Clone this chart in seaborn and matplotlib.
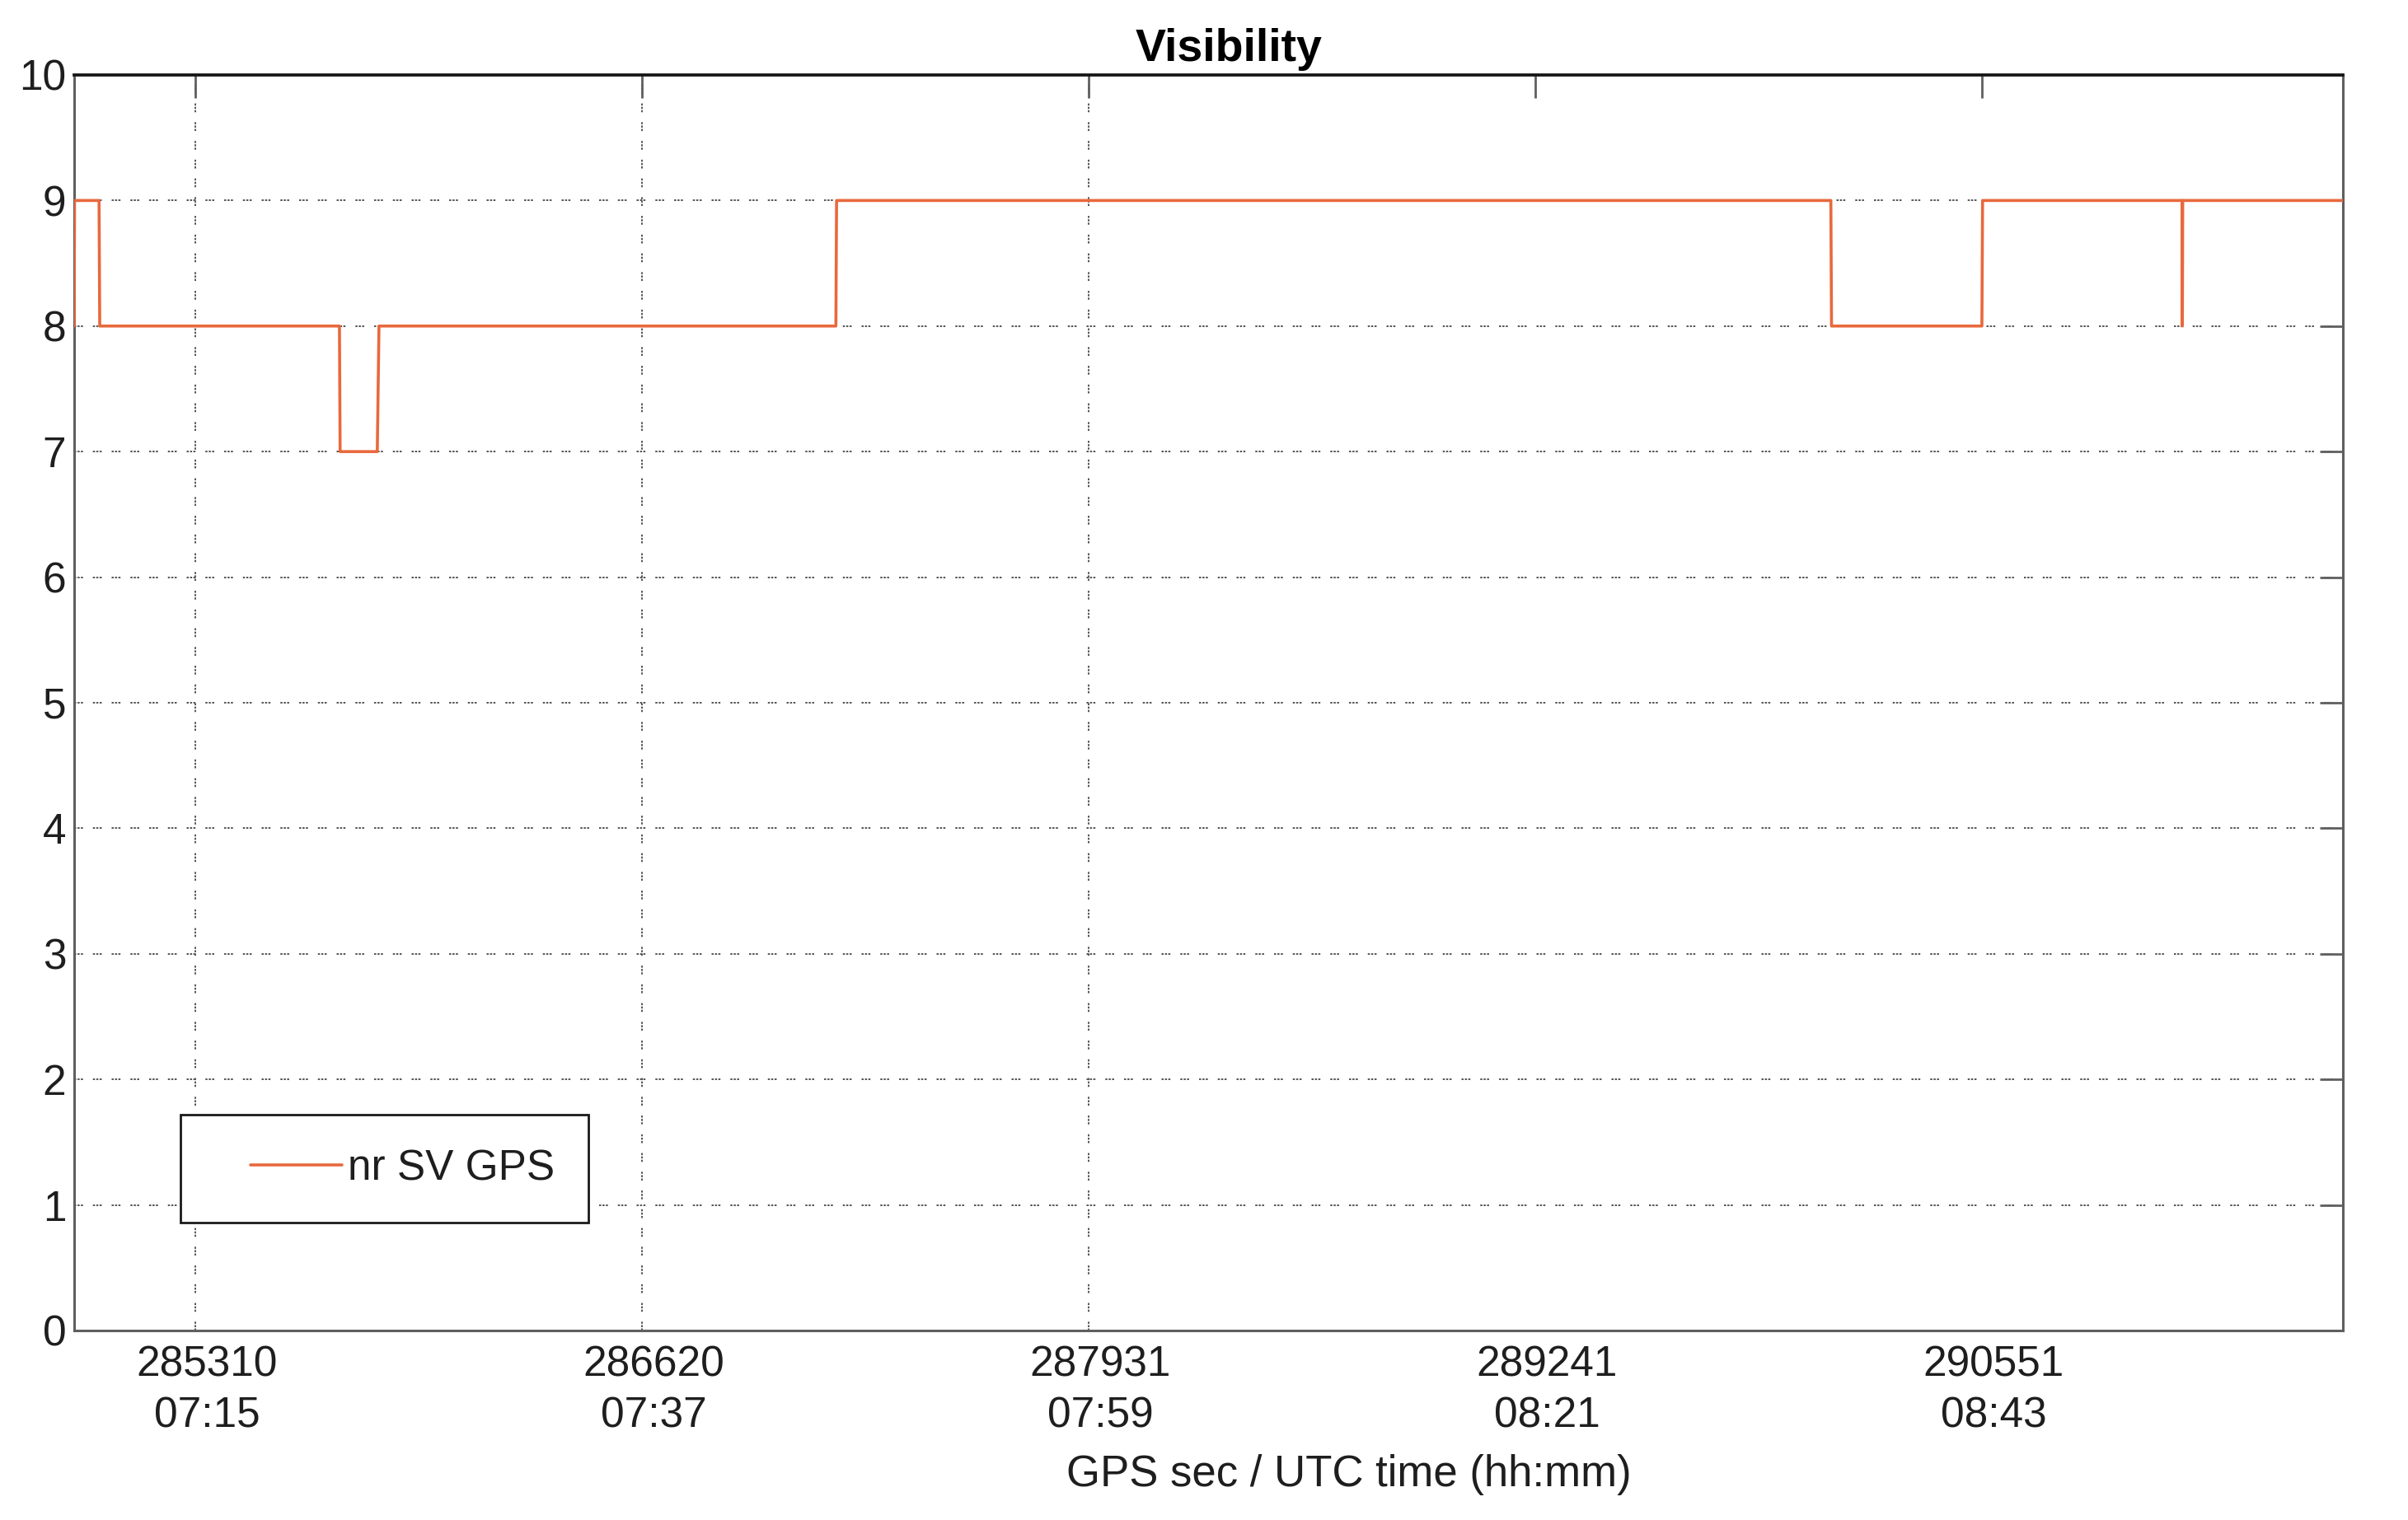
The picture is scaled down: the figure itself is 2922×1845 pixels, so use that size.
##################################### Importing Packages #####################################
import pandas as pd  # Used to hold the time series
import seaborn as sns  # Used to create lineplot
import matplotlib
matplotlib.use("Agg")
import matplotlib.pyplot as plt  # Used to edit plot
from matplotlib.legend_handler import HandlerLine2D
from matplotlib.transforms import ScaledTranslation

##################################### Data #####################################

# GPS seconds of week at each sample where the count changes
gps_sec = [284955, 284956, 285028, 285030, 285733, 285735, 285844, 285849,
           287189, 287191, 290107, 290109, 290550, 290552,
           291137, 291138, 291139, 291609]
# number of GPS satellites in view at those samples
nr_sv = [8, 9, 9, 8, 8, 7, 7, 8,
         8, 9, 9, 8, 8, 9,
         9, 8, 9, 9]

xtick_sec = [285310, 286620, 287931, 289241, 290551]  # tick positions (GPS sec)
xtick_utc = ["07:15", "07:37", "07:59", "08:21", "08:43"]  # UTC time under each tick
ytick_vals = [0, 1, 2, 3, 4, 5, 6, 7, 8, 9, 10]

x_limits = (284955, 291609)
y_limits = (0, 10)

##################################### Settings #####################################

graph_title = "Visibility"
x_label = "GPS sec / UTC time (hh:mm)"
legend_value = "nr SV GPS"

line_color = "#E8693D"
grid_color = "#555555"
grid_style = (0, (1.3, 0.8, 1.3, 0.8, 1.3, 6.2))  # MATLAB-like dotted grid
spine_color = "#5f5f5f"
text_color = "#1e1e1e"
font_size = 37

##################################### Visualizing Data #####################################

visibility = pd.DataFrame({"GPS_sec": gps_sec, "nr_SV": nr_sv})

sns.set_style("white")
plt.rcParams["font.family"] = ["Liberation Sans", "DejaVu Sans"]

fig = plt.figure(figsize=(29.22, 18.45), dpi=100)
ax = fig.add_axes([0.0308, 0.1247, 0.9422, 0.826])

######## Line - Plot ########
sns.lineplot(data=visibility, x="GPS_sec", y="nr_SV", ax=ax, color=line_color,
             linewidth=2.6, estimator=None, sort=False, label=legend_value, zorder=3)

######## Grid ########
# horizontal dotted grid on every integer, vertical only on the first three ticks
ax.yaxis.grid(True, color=grid_color, linestyle=grid_style, linewidth=1.4, zorder=0.5)
for t in xtick_sec[:3]:
    ax.axvline(t, color=grid_color, linestyle=grid_style, linewidth=1.4, zorder=0.5)

######## Axes ########
ax.set_xlim(*x_limits)
ax.set_ylim(*y_limits)
ax.set_yticks(ytick_vals)
ax.set_xticks(xtick_sec)
ax.set_xticklabels([f"{s}\n{u}" for s, u in zip(xtick_sec, xtick_utc)])

ax.tick_params(axis="both", direction="in", top=True, right=True, length=20,
               width=2, color=spine_color, labelsize=font_size, labelcolor=text_color)
ax.tick_params(axis="x", pad=13)
ax.tick_params(axis="y", pad=7)

# labels sit a little right of their ticks, with tight line spacing
shift = ScaledTranslation(14 / 100, 0, fig.dpi_scale_trans)
for lbl in ax.get_xticklabels():
    lbl.set_transform(lbl.get_transform() + shift)
    lbl.set_linespacing(1.33)

for side in ["left", "right", "bottom"]:
    ax.spines[side].set_color(spine_color)
    ax.spines[side].set_linewidth(2.2)
ax.spines["top"].set_color("#151515")
ax.spines["top"].set_linewidth(2.7)

######## Labels, Title, Legend ########
ax.set_title(graph_title, fontsize=40, fontweight="bold", color="black", x=0.509, pad=12)
ax.set_xlabel(x_label, fontsize=38, color=text_color, va="baseline")
ax.xaxis.set_label_coords(0.5618, -0.124)
ax.set_ylabel("")

leg = ax.legend(loc="lower left", bbox_to_anchor=(0.0469, 0.0857), borderaxespad=0,
                fontsize=font_size, frameon=True, fancybox=False, shadow=False,
                borderpad=0.8, handlelength=3.02, handletextpad=0.12,
                handler_map={plt.Line2D: HandlerLine2D(xpad=0.85)})
leg.get_frame().set_edgecolor("#1a1a1a")
leg.get_frame().set_linewidth(2)
leg.get_frame().set_alpha(1)
leg.get_frame().set_facecolor("white")
for txt in leg.get_texts():
    txt.set_color(text_color)

plt.savefig("out.png", dpi=100)
